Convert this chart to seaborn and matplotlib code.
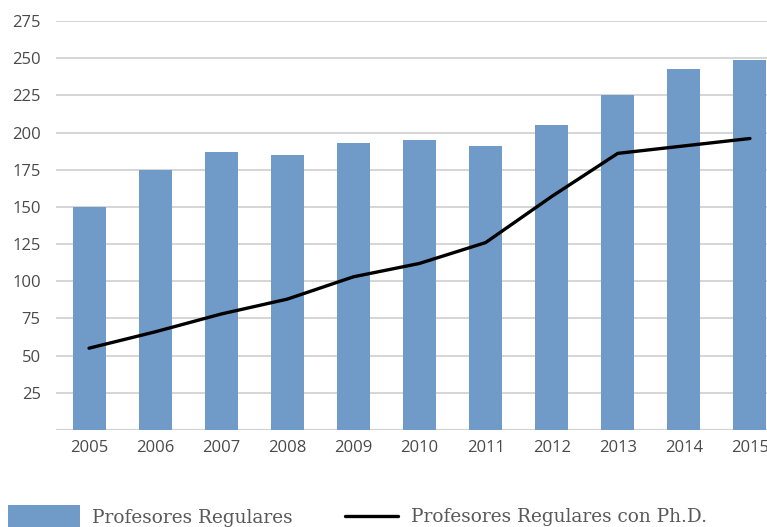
import matplotlib
matplotlib.use("Agg")
import matplotlib.pyplot as plt
import seaborn as sns
import pandas as pd
from matplotlib.patches import Patch
from matplotlib.lines import Line2D

years = ["2005", "2006", "2007", "2008", "2009", "2010", "2011", "2012", "2013", "2014", "2015"]
regulares = [150, 175, 187, 185, 193, 195, 191, 205, 225, 243, 249]
con_phd = [55, 66, 78, 88, 103, 112, 126, 157, 186, 191, 196]
yticks = [25, 50, 75, 100, 125, 150, 175, 200, 225, 250, 275]

label_bar = "Profesores Regulares"
label_line = "Profesores Regulares con Ph.D."

df = pd.DataFrame({"year": years, "reg": regulares, "phd": con_phd})

sns.set_style("white")
plt.rcParams["font.family"] = ["Open Sans", "DejaVu Sans"]

W, H = 767, 527
fig = plt.figure(figsize=(W / 100, H / 100), dpi=100)
ax = fig.add_axes([56 / W, 97 / H, 727 / W, 409 / H])

bar_color = "#709bc8"
sns.barplot(data=df, x="year", y="reg", color=bar_color, width=0.5,
            saturation=1, ax=ax, zorder=2, edgecolor="none", linewidth=0)
sns.pointplot(data=df, x="year", y="phd", color="black", markers="",
              linewidth=2.4, ax=ax, zorder=3)

ax.set_ylim(0, 275)
ax.set_xlim(-0.5, 10.5)
ax.set_yticks(yticks)
ax.set_xlabel("")
ax.set_ylabel("")
grid_c = "#d2d2d2"
for y in yticks:
    ax.axhline(y, color=grid_c, lw=1.3, zorder=1)
ax.axhline(0, color=grid_c, lw=1.6, zorder=1)
for s in ax.spines.values():
    s.set_visible(False)
ax.tick_params(axis="both", length=0, labelsize=12, labelcolor="#4a4a4a")
ax.tick_params(axis="y", pad=11)
ax.tick_params(axis="x", pad=7)

leg_font = {"family": "DejaVu Serif", "size": 13.3}
fs = 13.3 * 100 / 72
fig.legend(handles=[Patch(facecolor=bar_color, edgecolor="none")],
           labels=[label_bar], loc="center left",
           bbox_to_anchor=(8 / W, 10 / H), frameon=False,
           borderpad=0, borderaxespad=0, handlelength=72 / fs,
           handleheight=30 / fs, handletextpad=12 / fs,
           prop=leg_font, labelcolor="#595959")
fig.legend(handles=[Line2D([0], [0], color="black", lw=2.4)],
           labels=[label_line], loc="center left",
           bbox_to_anchor=(345 / W, 10 / H), frameon=False,
           borderpad=0, borderaxespad=0, handlelength=53 / fs,
           handletextpad=13 / fs, prop=leg_font, labelcolor="#595959")

fig.savefig("out.png", dpi=100)
